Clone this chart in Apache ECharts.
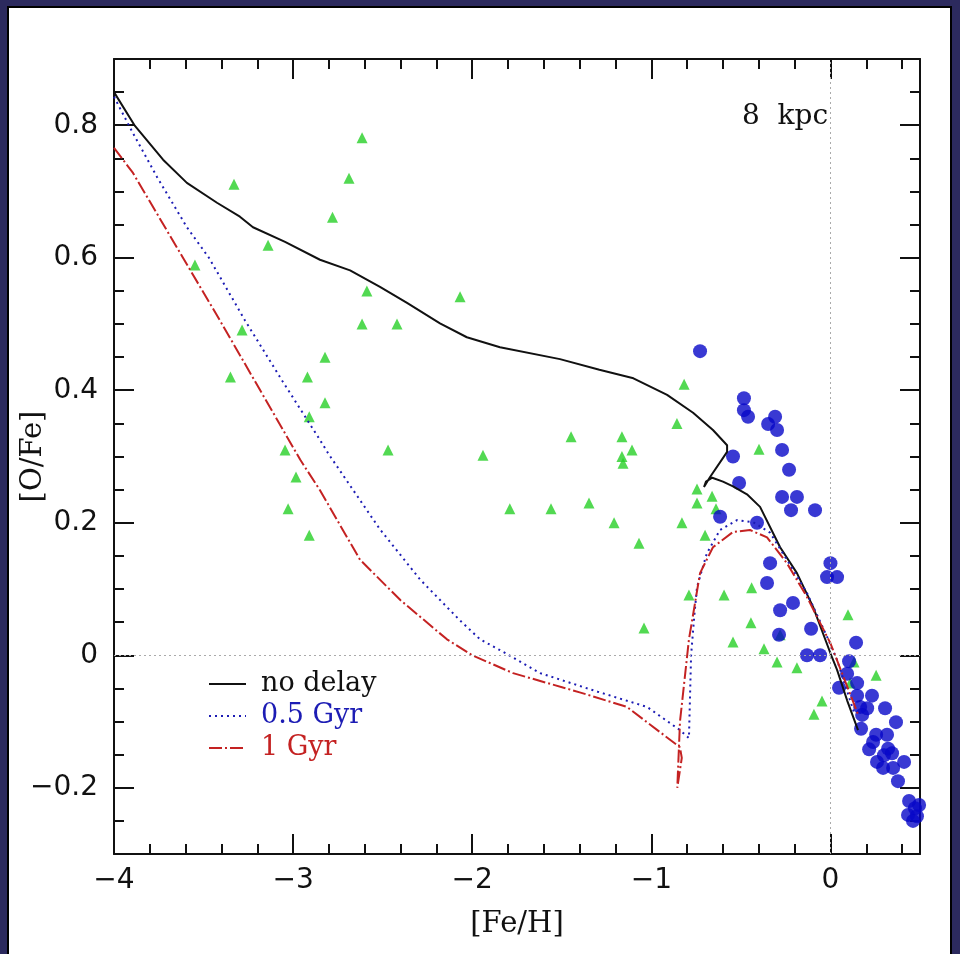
<!DOCTYPE html>
<html>
<head>
<meta charset="utf-8">
<script src="https://cdn.jsdelivr.net/npm/echarts@6/dist/echarts.min.js"></script>
<style>
  html, body { margin: 0; padding: 0; background: #2c2a5e; }
  /* white panel with thin black rim, chart drawn over it */
  #panel { position: absolute; left: 7px; top: 6px; width: 941px; height: 960px; background: #fff; border: 2px solid #000; }
  #chart { position: absolute; left: 0; top: 0; width: 960px; height: 954px; }
</style>
</head>
<body>
<div id="panel"></div>
<div id="chart"></div>
<script>
// model curves
var noDelayX = [-4, -3.883, -3.726, -3.593, -3.425, -3.297, -3.224, -3.045, -2.85, -2.682, -2.515, -2.364, -2.18, -2.03, -1.845, -1.51, -1.29, -1.1, -0.912, -0.767, -0.656, -0.577, -0.577, -0.672, -0.706, -0.695, -0.66, -0.6, -0.544, -0.466, -0.393, -0.281, -0.187, -0.097, 0.0, 0.037, 0.093, 0.154]
var noDelayY = [0.85, 0.799, 0.748, 0.713, 0.683, 0.662, 0.646, 0.624, 0.597, 0.581, 0.556, 0.532, 0.501, 0.48, 0.465, 0.447, 0.431, 0.418, 0.393, 0.366, 0.34, 0.317, 0.307, 0.269, 0.254, 0.262, 0.268, 0.262, 0.255, 0.243, 0.224, 0.163, 0.124, 0.073, 0.003, -0.022, -0.068, -0.113]

var halfGyrX = [-4, -3.894, -3.76, -3.593, -3.47, -3.27, -3.06, -2.85, -2.8, -2.515, -2.29, -2.07, -1.956, -1.806, -1.621, -1.3, -1.024, -0.84, -0.79, -0.778, -0.76, -0.745, -0.69, -0.617, -0.522, -0.432, -0.337, -0.243, -0.131, -0.019, 0.037, 0.13]
var halfGyrY = [0.843, 0.788, 0.722, 0.646, 0.6, 0.506, 0.414, 0.325, 0.303, 0.19, 0.114, 0.053, 0.024, 0.002, -0.027, -0.055, -0.078, -0.113, -0.125, 0.0, 0.06, 0.103, 0.154, 0.189, 0.204, 0.201, 0.185, 0.144, 0.094, 0.028, -0.007, -0.085]

var oneGyrX = [-4, -3.894, -3.615, -3.41, -2.96, -2.85, -2.626, -2.4, -2.141, -2.0, -1.772, -1.4, -1.136, -0.84, -0.83, -0.855, -0.84, -0.79, -0.728, -0.656, -0.544, -0.449, -0.354, -0.243, -0.131, 0.0, 0.155]
var oneGyrY = [0.766, 0.728, 0.6, 0.506, 0.295, 0.249, 0.144, 0.083, 0.024, 0.0, -0.027, -0.056, -0.078, -0.139, -0.155, -0.2, -0.1, 0.024, 0.124, 0.163, 0.186, 0.189, 0.178, 0.139, 0.088, 0.018, -0.09]

// halo stars (green triangles)
var triX = [-3.33, -3.14, -3.548, -2.615, -2.688, -2.78, -2.588, -2.068, -2.615, -2.42, -3.285, -2.822, -3.35, -2.92, -2.822, -2.91, -3.045, -2.47, -1.94, -2.984, -3.028, -2.91, -0.817, -0.857, -1.448, -1.164, -1.108, -1.164, -1.158, -1.79, -1.56, -1.348, -1.208, -1.069, -0.829, -0.745, -0.745, -0.661, -0.639, -0.7, -0.79, -0.594, -1.041, -0.544, -0.399, -0.44, -0.444, -0.281, -0.371, 0.098, -0.298, -0.187, -0.047, -0.092, 0.132, 0.11, 0.255]
var triY = [0.711, 0.619, 0.589, 0.781, 0.72, 0.661, 0.55, 0.541, 0.5, 0.5, 0.491, 0.45, 0.42, 0.42, 0.381, 0.36, 0.31, 0.31, 0.302, 0.269, 0.221, 0.181, 0.409, 0.35, 0.33, 0.33, 0.31, 0.3, 0.29, 0.221, 0.221, 0.23, 0.2, 0.169, 0.2, 0.251, 0.23, 0.24, 0.221, 0.181, 0.091, 0.091, 0.041, 0.02, 0.311, 0.102, 0.049, 0.031, 0.01, 0.061, -0.01, -0.019, -0.069, -0.089, -0.01, -0.042, -0.03]

// disk stars (blue circles)
var dotX = [-0.728, -0.483, -0.483, -0.46, -0.348, -0.309, -0.298, -0.27, -0.544, -0.231, -0.51, -0.27, -0.187, -0.22, -0.086, -0.616, -0.41, -0.337, 0.0, -0.019, 0.037, -0.354, -0.209, -0.281, -0.108, -0.287, 0.143, -0.131, -0.058, 0.104, 0.093, 0.149, 0.048, 0.149, 0.232, 0.166, 0.205, 0.305, 0.177, 0.366, 0.171, 0.255, 0.316, 0.238, 0.216, 0.322, 0.299, 0.344, 0.26, 0.294, 0.35, 0.411, 0.377, 0.439, 0.472, 0.433, 0.483, 0.461, 0.495]
var dotY = [0.459, 0.388, 0.37, 0.36, 0.349, 0.36, 0.34, 0.31, 0.3, 0.28, 0.26, 0.239, 0.239, 0.219, 0.219, 0.209, 0.2, 0.139, 0.139, 0.118, 0.118, 0.109, 0.079, 0.068, 0.04, 0.031, 0.019, 0.0, 0.0, -0.009, -0.028, -0.042, -0.049, -0.061, -0.061, -0.078, -0.08, -0.08, -0.09, -0.101, -0.111, -0.12, -0.12, -0.131, -0.142, -0.141, -0.151, -0.148, -0.161, -0.17, -0.17, -0.161, -0.19, -0.22, -0.231, -0.241, -0.243, -0.25, -0.226]

function zip (xs, ys) {
  return xs.map(function (x, i) { return [x, ys[i]] })
}
function fmt (v) {
  var s = String(+v.toFixed(2))
  return v < 0 ? '\u2212' + s.slice(1) : s
}

var numFont = 'DejaVu Sans'
var wordFont = 'DejaVu Serif'

function xAx (pos, major, labels) {
  return {
    type: 'value', min: -4, max: 0.5, interval: major ? 1 : 0.2, position: pos,
    axisLine: { show: major, onZero: false, lineStyle: { color: '#111', width: 2 } },
    axisTick: { inside: true, length: major ? 20 : 10, lineStyle: { color: '#111', width: 2 } },
    axisLabel: { show: labels, margin: 13, showMaxLabel: false, color: '#111', fontFamily: numFont, fontSize: 28, formatter: fmt },
    splitLine: { show: false },
    name: labels ? '[Fe/H]' : '',
    nameLocation: 'middle', nameGap: 56,
    nameTextStyle: { color: '#111', fontFamily: wordFont, fontSize: 29 }
  }
}
function yAx (pos, major, labels) {
  var a = {
    type: 'value', min: -0.3, max: 0.9, position: pos,
    axisLine: { show: major, onZero: false, lineStyle: { color: '#111', width: 2 } },
    axisTick: { inside: true, length: major ? 20 : 10, lineStyle: { color: '#111', width: 2 } },
    axisLabel: { show: labels, margin: 16, showMinLabel: false, showMaxLabel: false, color: '#111', fontFamily: numFont, fontSize: 28, formatter: fmt },
    splitLine: { show: false },
    name: labels ? '[O/Fe]' : '',
    nameLocation: 'middle', nameGap: 66, nameMoveOverlap: false,
    nameTextStyle: { color: '#111', fontFamily: wordFont, fontSize: 29 }
  }
  if (major) a.splitNumber = 6
  else a.interval = 0.05
  return a
}

var myChart = echarts.init(document.getElementById('chart'))
myChart.setOption({
  animation: false,
  grid: { left: 114, top: 59, right: 40, bottom: 100, outerBoundsMode: 'none' },
  xAxis: [xAx('bottom', true, true), xAx('bottom', false, false), xAx('top', true, false), xAx('top', false, false)],
  yAxis: [yAx('left', true, true), yAx('left', false, false), yAx('right', true, false), yAx('right', false, false)],
  legend: {
    orient: 'vertical', left: 203, top: 664,
    itemWidth: 37, itemHeight: 2, itemGap: 2,
    itemStyle: { opacity: 0 },
    textStyle: { fontFamily: wordFont, fontSize: 27, lineHeight: 30, padding: [0, 0, 0, 10] },
    data: [
      { name: 'no delay', textStyle: { color: '#111' } },
      { name: '0.5 Gyr', textStyle: { color: '#1c1cb4' } },
      { name: '1 Gyr', textStyle: { color: '#c42222' } }
    ]
  },
  graphic: [
    { type: 'text', left: 742, top: 103, style: { text: '8  kpc', fill: '#111', font: '28px "DejaVu Serif"' } }
  ],
  series: [
    {
      name: 'no delay', type: 'line', data: zip(noDelayX, noDelayY), showSymbol: false, symbol: 'none',
      lineStyle: { color: '#111', width: 2 }, itemStyle: { color: '#111' },
      markLine: {
        silent: true, symbol: 'none', label: { show: false },
        lineStyle: { color: '#aaa', width: 1, type: [2, 3] },
        data: [{ xAxis: 0 }, { yAxis: 0 }]
      }
    },
    {
      name: '0.5 Gyr', type: 'line', data: zip(halfGyrX, halfGyrY), symbol: 'none',
      lineStyle: { color: '#1c1cb4', width: 2, type: [2, 4] }, itemStyle: { color: '#1c1cb4' }
    },
    {
      name: '1 Gyr', type: 'line', data: zip(oneGyrX, oneGyrY), symbol: 'none',
      lineStyle: { color: '#c42222', width: 2, type: [13, 3, 2, 3] }, itemStyle: { color: '#c42222' }
    },
    {
      name: 'halo', type: 'scatter', data: zip(triX, triY), symbol: 'triangle', symbolSize: 11,
      itemStyle: { color: '#27cf27' }
    },
    {
      name: 'disk', type: 'scatter', data: zip(dotX, dotY), symbol: 'circle', symbolSize: 14,
      itemStyle: { color: '#0808c8' }
    }
  ]
})
</script>
</body>
</html>
